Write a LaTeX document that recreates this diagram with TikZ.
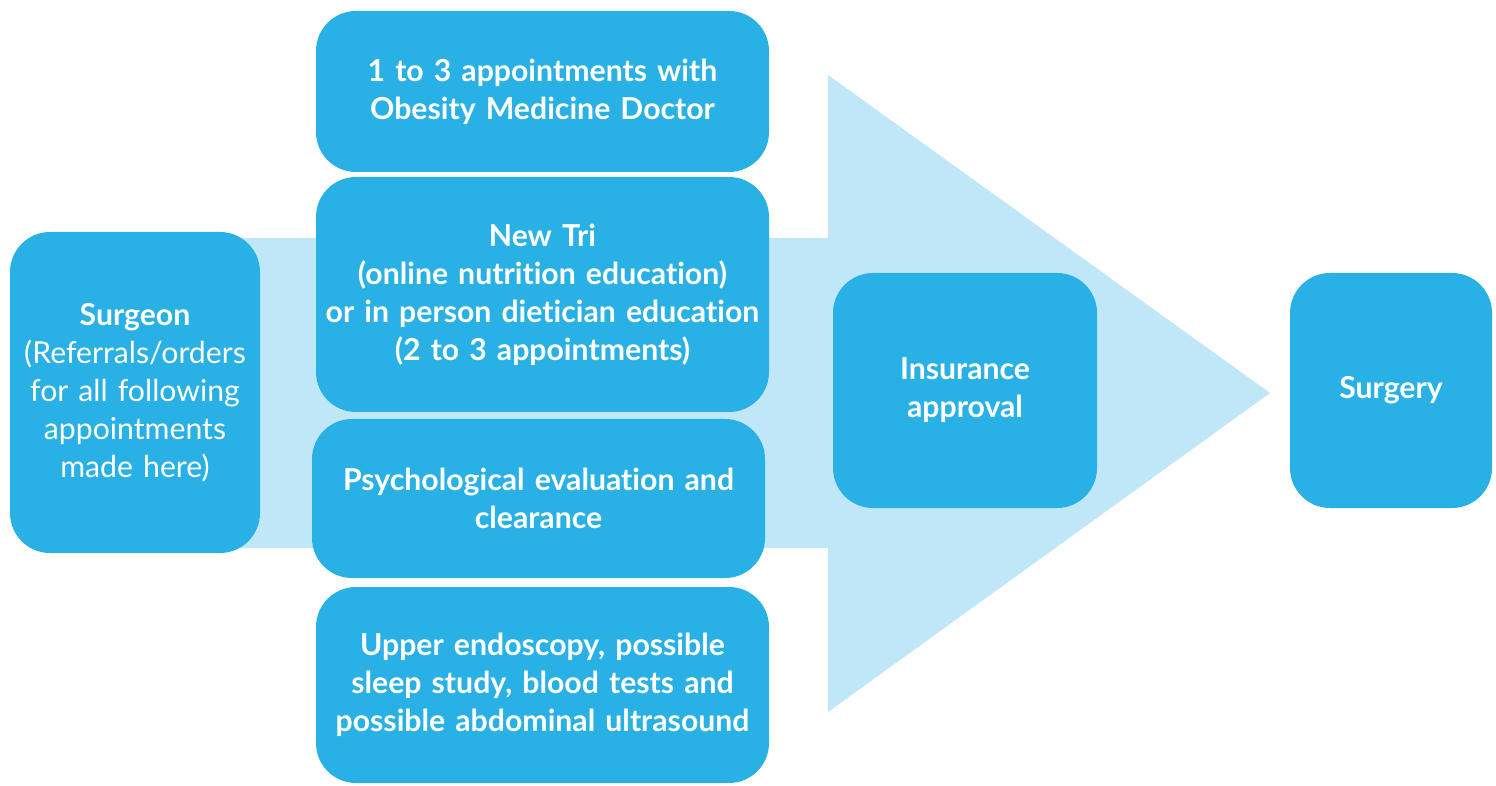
\documentclass[tikz,border=0pt]{standalone}
\usepackage{fontspec}
\setmainfont{Lato}[RawFeature=-liga]
\definecolor{boxblue}{HTML}{29B1E5}
\definecolor{arrowblue}{HTML}{BFE7F7}

\begin{document}
\begin{tikzpicture}[
			every node/.style={fill=boxblue, rounded corners=0.4cm, text=white, align=center,
				inner sep=0pt, font=\fontsize{8.6}{10.8}\selectfont\bfseries},
			stepbox/.style={minimum width=4.53cm, text width=4.5cm},
			endbox/.style={minimum height=2.35cm}
			]
			\useasboundingbox (0,0) rectangle (14.96,7.85);
			% big arrow behind the boxes
			\fill[arrowblue] (2.4,5.47) -- (8.28,5.47) -- (8.28,7.10) -- (12.70,3.92)
				-- (8.28,0.73) -- (8.28,2.37) -- (2.4,2.37) -- cycle;
			\node[minimum width=2.5cm, minimum height=3.21cm, text width=2.45cm] (surgeon) at (1.35,3.925)
				{Surgeon\\ \mdseries(Referrals/orders for all following appointments made here)};
			\node[stepbox, minimum height=1.61cm] (doctor) at (5.425,6.935)
				{1 to 3 appointments with\\ Obesity Medicine Doctor};
			\node[stepbox, minimum height=2.35cm] (diet) at (5.425,4.905)
				{New Tri\\ (online nutrition education)\\ or in person dietician education\\ (2 to 3 appointments)};
			\node[stepbox, minimum height=1.59cm] (psych) at (5.385,2.865)
				{Psychological evaluation and\\ clearance};
			\node[stepbox, minimum height=1.96cm] (tests) at (5.425,1.0)
				{Upper endoscopy, possible\\ sleep study, blood tests and\\ possible abdominal ultrasound};
			\node[endbox, minimum width=2.64cm] (insurance) at (9.65,3.945) {Insurance\\ approval};
			\node[endbox, minimum width=2.02cm] (surgery) at (13.91,3.945) {Surgery};
		\end{tikzpicture}
\end{document}
